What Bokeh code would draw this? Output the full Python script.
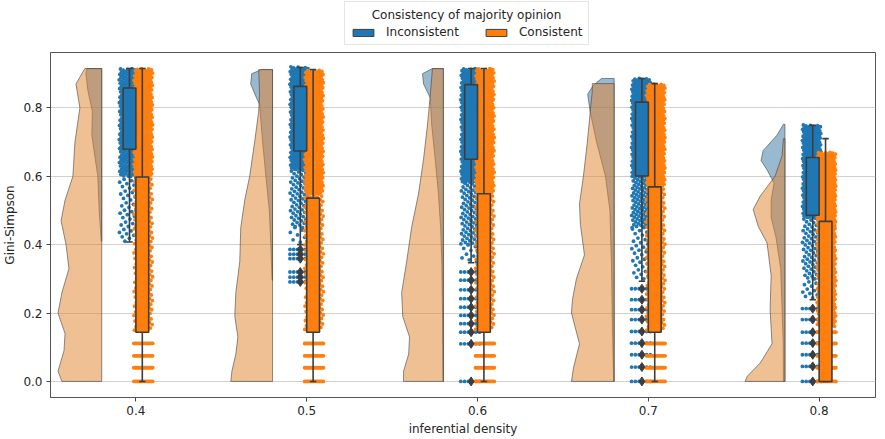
import numpy as np
from bokeh.plotting import figure
from bokeh.layouts import column
from bokeh.models import Range1d, FixedTicker, PrintfTickFormatter, Legend, LegendItem, Label
from bokeh.embed import file_html
from bokeh.resources import INLINE

# ---------------- data ----------------
CATEGORIES = ["0.4", "0.5", "0.6", "0.7", "0.8"]
Y_TICKS = [0.0, 0.2, 0.4, 0.6, 0.8]
LEGEND_TITLE = "Consistency of majority opinion"
HUE_LABELS = ["Inconsistent", "Consistent"]

# box statistics  (lower whisker, q1, q3, upper whisker)
BLUE_LO = [0.408, 0.400, 0.347, 0.293, 0.239]
BLUE_Q1 = [0.679, 0.674, 0.650, 0.601, 0.486]
BLUE_Q3 = [0.858, 0.863, 0.868, 0.817, 0.655]
BLUE_HI = [0.915, 0.918, 0.915, 0.886, 0.749]
ORANGE_LO = [0.0, 0.0, 0.0, 0.0, 0.0]
ORANGE_Q1 = [0.144, 0.144, 0.144, 0.144, 0.0]
ORANGE_Q3 = [0.598, 0.536, 0.549, 0.569, 0.468]
ORANGE_HI = [0.915, 0.912, 0.915, 0.871, 0.710]

BLUE_OUTLIERS = [
    [],
    [0.386, 0.372, 0.359, 0.320, 0.305, 0.291],
    [0.320, 0.296, 0.268, 0.242, 0.217, 0.193, 0.169, 0.144, 0.110, 0.0],
    [0.271, 0.239, 0.210, 0.181, 0.146, 0.112, 0.078, 0.042, 0.0],
    [0.213, 0.181, 0.144, 0.112, 0.078, 0.044, 0.0],
]

# half-violin outlines: value levels and half widths (x units)
ORANGE_VIOLIN_Y = [
    [0.0, 0.03, 0.09, 0.14, 0.2, 0.26, 0.33, 0.4, 0.47, 0.53, 0.6, 0.7, 0.8, 0.87, 0.915],
    [0.0, 0.03, 0.08, 0.13, 0.19, 0.26, 0.35, 0.45, 0.53, 0.6, 0.7, 0.79, 0.84, 0.912],
    [0.0, 0.03, 0.08, 0.13, 0.19, 0.26, 0.35, 0.45, 0.55, 0.65, 0.75, 0.84, 0.915],
    [0.0, 0.04, 0.11, 0.2, 0.24, 0.3, 0.37, 0.46, 0.52, 0.6, 0.7, 0.79, 0.85, 0.871],
    [0.0, 0.015, 0.054, 0.11, 0.21, 0.31, 0.405, 0.454, 0.503, 0.542, 0.6, 0.66, 0.71],
]
ORANGE_VIOLIN_W = [
    [0.233, 0.256, 0.221, 0.215, 0.256, 0.233, 0.192, 0.209, 0.238, 0.215, 0.169, 0.157, 0.128, 0.151, 0.099],
    [0.244, 0.238, 0.215, 0.203, 0.221, 0.215, 0.192, 0.186, 0.163, 0.134, 0.105, 0.081, 0.076, 0.081],
    [0.233, 0.233, 0.203, 0.198, 0.238, 0.244, 0.215, 0.186, 0.145, 0.116, 0.093, 0.076, 0.064],
    [0.250, 0.238, 0.203, 0.250, 0.244, 0.221, 0.174, 0.198, 0.203, 0.180, 0.157, 0.140, 0.128, 0.128],
    [0.233, 0.221, 0.145, 0.076, 0.087, 0.081, 0.105, 0.157, 0.186, 0.145, 0.058, 0.017, 0.009],
]
BLUE_VIOLIN_Y = [
    [0.41, 0.5, 0.6, 0.65, 0.72, 0.79, 0.85, 0.9, 0.915],
    [0.296, 0.4, 0.5, 0.6, 0.7, 0.81, 0.835, 0.87, 0.9, 0.912],
    [0.0, 0.2, 0.35, 0.45, 0.55, 0.65, 0.75, 0.83, 0.87, 0.9, 0.915],
    [0.0, 0.16, 0.35, 0.5, 0.6, 0.7, 0.79, 0.84, 0.866, 0.886],
    [0.0, 0.11, 0.33, 0.42, 0.48, 0.53, 0.58, 0.617, 0.646, 0.675, 0.72, 0.752],
]
BLUE_VIOLIN_W = [
    [0.003, 0.015, 0.023, 0.038, 0.058, 0.055, 0.081, 0.093, 0.087],
    [0.003, 0.010, 0.019, 0.039, 0.058, 0.076, 0.099, 0.128, 0.122, 0.064],
    [0.002, 0.005, 0.009, 0.016, 0.029, 0.048, 0.068, 0.077, 0.116, 0.122, 0.064],
    [0.003, 0.010, 0.016, 0.025, 0.051, 0.103, 0.141, 0.155, 0.122, 0.074],
    [0.009, 0.010, 0.025, 0.052, 0.081, 0.081, 0.064, 0.103, 0.140, 0.128, 0.047, 0.009],
]

# strip (rain) point bands: (low value, high value, number of points)
BLUE_BANDS = [
    [(0.60, 0.915, 260), (0.41, 0.60, 45)],
    [(0.62, 0.92, 280), (0.45, 0.62, 70), (0.40, 0.45, 8)],
    [(0.58, 0.915, 320), (0.40, 0.58, 80), (0.35, 0.40, 10)],
    [(0.60, 0.886, 300), (0.45, 0.60, 90), (0.30, 0.45, 35)],
    [(0.48, 0.75, 280), (0.30, 0.48, 70), (0.24, 0.30, 15)],
]
ORANGE_BANDS = [
    [(0.60, 0.915, 300), (0.15, 0.60, 220)],
    [(0.55, 0.91, 320), (0.15, 0.55, 200)],
    [(0.55, 0.915, 320), (0.15, 0.55, 200)],
    [(0.57, 0.87, 300), (0.15, 0.57, 220)],
    [(0.45, 0.67, 260), (0.16, 0.45, 250)],
]
ORANGE_LEVELS = [
    [0.0, 0.04, 0.075, 0.111],
    [0.0, 0.04, 0.075, 0.111],
    [0.0, 0.04, 0.075, 0.111],
    [0.0, 0.04, 0.075, 0.111],
    [0.0, 0.04, 0.075, 0.111, 0.144],
]

# ---------------- styling ----------------
BLUE = "#1f77b4"
ORANGE = "#ff7f0e"
BLUE_V = "#3274a1"
ORANGE_V = "#e1812c"
DARK = "#3d3d3d"
FONT = "DejaVu Sans"
VIOLIN_OFFSET = -0.2
BOX_W = 0.075
STRIP_OFF = 0.043
STRIP_HW = 0.055

p = figure(width=877, height=387, output_backend="svg", toolbar_location=None,
           x_range=Range1d(-0.5, 4.33), y_range=Range1d(-0.047, 0.962),
           min_border_left=44, min_border_right=2, min_border_top=0, min_border_bottom=42)
p.background_fill_color = "white"
p.border_fill_color = "white"
p.outline_line_color = "#555555"
p.outline_line_width = 1

# violins
for i in range(len(CATEGORIES)):
    edge = i + VIOLIN_OFFSET
    for ys, ws, col in ((BLUE_VIOLIN_Y[i], BLUE_VIOLIN_W[i], BLUE_V),
                        (ORANGE_VIOLIN_Y[i], ORANGE_VIOLIN_W[i], ORANGE_V)):
        xs = [edge] + [edge - w for w in ws] + [edge]
        yy = [ys[0]] + list(ys) + [ys[-1]]
        p.patch(xs, yy, fill_color=col, fill_alpha=0.5, line_color="#444444",
                line_alpha=0.6, line_width=1, line_join="round")

# strip points
golden = 0.6180339887
for bands, levels, sign, col in ((BLUE_BANDS, None, -1, BLUE), (ORANGE_BANDS, ORANGE_LEVELS, 1, ORANGE)):
    for i in range(len(CATEGORIES)):
        c = i + sign * STRIP_OFF
        xs, ys = [], []
        k = 0
        for lo, hi, n in bands[i]:
            for v in np.linspace(lo, hi, n):
                k += 1
                xs.append(float(c + STRIP_HW * (2 * ((k * golden) % 1.0) - 1)))
                ys.append(float(v))
        lv = levels[i] if levels is not None else BLUE_OUTLIERS[i]
        m = 14 if levels is not None else 6
        for v in lv:
            for xx in np.linspace(-STRIP_HW, STRIP_HW, m):
                xs.append(float(c + xx))
                ys.append(float(v))
        p.scatter(xs, ys, size=3.8, fill_color=col, line_color=None)

# boxes
for lo, q1, q3, hi, sign, col in ((BLUE_LO, BLUE_Q1, BLUE_Q3, BLUE_HI, -1, BLUE),
                                  (ORANGE_LO, ORANGE_Q1, ORANGE_Q3, ORANGE_HI, 1, ORANGE)):
    cx = [i + sign * BOX_W / 2 for i in range(len(CATEGORIES))]
    p.segment(cx, q3, cx, hi, line_color=DARK, line_width=1.6)
    p.segment(cx, lo, cx, q1, line_color=DARK, line_width=1.6)
    p.segment([x - BOX_W / 4 for x in cx], hi, [x + BOX_W / 4 for x in cx], hi, line_color=DARK, line_width=1.6)
    p.segment([x - BOX_W / 4 for x in cx], lo, [x + BOX_W / 4 for x in cx], lo, line_color=DARK, line_width=1.6)
    p.quad(left=[x - BOX_W / 2 for x in cx], right=[x + BOX_W / 2 for x in cx],
           bottom=q1, top=q3, fill_color=col, line_color=DARK, line_width=1.6)

# outliers
ox, oy = [], []
for i, vals in enumerate(BLUE_OUTLIERS):
    for v in vals:
        ox.append(i - BOX_W / 2)
        oy.append(v)
p.scatter(ox, oy, marker="diamond", size=9, fill_color=DARK, line_color=DARK)

# axes
p.xaxis.ticker = FixedTicker(ticks=list(range(len(CATEGORIES))))
p.xaxis.major_label_overrides = {i: c for i, c in enumerate(CATEGORIES)}
p.yaxis.ticker = FixedTicker(ticks=Y_TICKS)
p.yaxis.formatter = PrintfTickFormatter(format="%.1f")
p.xaxis.axis_label = "inferential density"
p.yaxis.axis_label = "Gini-Simpson"
for ax in (p.xaxis, p.yaxis):
    ax.axis_label_text_font = FONT
    ax.axis_label_text_font_size = "12px"
    ax.axis_label_text_font_style = "normal"
    ax.axis_label_text_color = "#262626"
    ax.major_label_text_font = FONT
    ax.major_label_text_font_size = "12px"
    ax.major_label_text_color = "#262626"
    ax.minor_tick_line_color = None
    ax.major_tick_out = 4
    ax.major_tick_in = 0
    ax.major_tick_line_color = "#444444"
    ax.axis_line_color = "#555555"
    ax.major_label_standoff = 4
p.yaxis.axis_label_standoff = 3
p.xaxis.axis_label_standoff = 4
p.xgrid.grid_line_color = None
p.ygrid.ticker = FixedTicker(ticks=Y_TICKS)
p.ygrid.grid_line_color = "#d0d0d0"
p.ygrid.grid_line_width = 1

# ---------------- legend strip above the axes ----------------
lg = figure(width=877, height=52, output_backend="svg", toolbar_location=None,
            x_range=Range1d(0, 1), y_range=Range1d(0, 1),
            x_axis_type=None, y_axis_type=None,
            min_border_left=0, min_border_right=0, min_border_top=0, min_border_bottom=0)
lg.outline_line_color = None
lg.xgrid.grid_line_color = None
lg.ygrid.grid_line_color = None
lg.background_fill_color = "white"
# legend-key renderers (their single placeholder sits outside the visible range)
rb = lg.quad(left=[-3], right=[-2], top=[-2], bottom=[-3], fill_color=BLUE, line_color=DARK, line_width=1)
ro = lg.quad(left=[-3], right=[-2], top=[-2], bottom=[-3], fill_color=ORANGE, line_color=DARK, line_width=1)
legend = Legend(items=[LegendItem(label=HUE_LABELS[0], renderers=[rb]),
                       LegendItem(label=HUE_LABELS[1], renderers=[ro])],
                title=" ", orientation="horizontal",
                location=(294, 7))
legend.title_text_font = FONT
legend.title_text_font_size = "12px"
legend.title_text_font_style = "normal"
legend.title_standoff = 4
legend.label_text_font = FONT
legend.label_text_font_size = "12px"
legend.label_text_color = "#262626"
legend.label_height = 13
legend.glyph_height = 9
legend.glyph_width = 26
legend.label_standoff = 10
legend.spacing = 24
legend.padding = 5
legend.margin = 0
legend.border_line_color = "#cccccc"
legend.border_line_width = 1
legend.background_fill_alpha = 0.0
lg.add_layout(legend, "center")
# centred legend title (matplotlib centres it over the entries)
lg.add_layout(Label(x=416, y=38, x_units="screen", y_units="screen", text=LEGEND_TITLE,
                    text_align="center", text_baseline="middle", text_font=FONT,
                    text_font_size="12px", text_color="#262626", level="overlay"))

layout = column(lg, p, spacing=0)
open("out.html", "w").write(file_html(layout, INLINE))
